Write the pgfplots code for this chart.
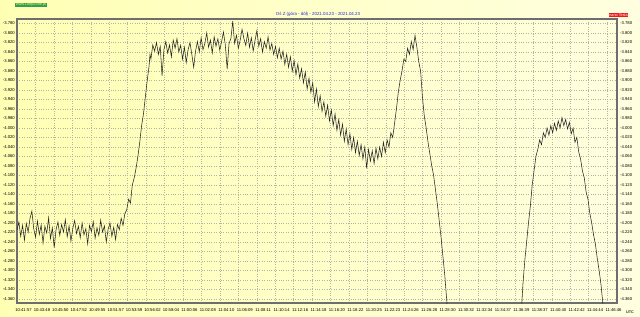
\documentclass[border=0pt]{standalone}
\usepackage{pgfplots}
\pgfplotsset{compat=1.18}
\usepackage{fontspec}
\setmainfont{Liberation Sans}
\definecolor{bgA}{HTML}{FFFFB4}
\definecolor{bgB}{HTML}{FFFFE0}
\definecolor{framec}{HTML}{6E6E6E}
\definecolor{gridc}{HTML}{B4B4A4}
\definecolor{titleblue}{HTML}{2828D0}
\definecolor{lzgreen}{HTML}{2E9E58}
\definecolor{nanored}{HTML}{F01818}
\pgfplotstableread{
x y
0.0 -4.215
0.1 -4.198
0.2 -4.228
0.3 -4.205
0.4 -4.236
0.5 -4.201
0.6 -4.219
0.7 -4.190
0.8 -4.175
0.9 -4.212
1.0 -4.230
1.1 -4.196
1.2 -4.224
1.3 -4.204
1.4 -4.242
1.5 -4.207
1.6 -4.221
1.7 -4.189
1.8 -4.233
1.9 -4.210
2.0 -4.252
2.1 -4.214
2.2 -4.198
2.3 -4.226
2.4 -4.203
2.5 -4.219
2.6 -4.193
2.7 -4.229
2.8 -4.206
2.9 -4.238
3.0 -4.211
3.1 -4.195
3.2 -4.222
3.3 -4.207
3.4 -4.231
3.5 -4.200
3.6 -4.225
3.7 -4.212
3.8 -4.244
3.9 -4.205
4.0 -4.218
4.1 -4.197
4.2 -4.232
4.3 -4.210
4.4 -4.226
4.5 -4.194
4.6 -4.219
4.7 -4.206
4.8 -4.240
4.9 -4.213
5.0 -4.200
5.1 -4.228
5.2 -4.209
5.3 -4.235
5.4 -4.203
5.5 -4.214
5.6 -4.190
5.7 -4.205
5.8 -4.180
5.9 -4.172
6.0 -4.150
6.1 -4.158
6.2 -4.120
6.3 -4.105
6.4 -4.085
6.5 -4.060
6.6 -4.030
6.7 -3.995
6.8 -3.970
6.9 -3.935
7.0 -3.900
7.1 -3.870
7.15 -3.845
7.2 -3.855
7.3 -3.825
7.4 -3.838
7.5 -3.820
7.6 -3.845
7.7 -3.828
7.8 -3.890
7.9 -3.835
8.0 -3.818
8.1 -3.842
8.2 -3.825
8.3 -3.850
8.4 -3.815
8.5 -3.832
8.6 -3.812
8.7 -3.840
8.8 -3.826
8.9 -3.855
9.0 -3.830
9.1 -3.862
9.2 -3.835
9.3 -3.820
9.4 -3.845
9.5 -3.872
9.6 -3.838
9.7 -3.818
9.8 -3.840
9.9 -3.810
10.0 -3.835
10.1 -3.822
10.2 -3.800
10.3 -3.830
10.4 -3.815
10.5 -3.842
10.6 -3.808
10.7 -3.828
10.8 -3.812
10.9 -3.836
11.0 -3.818
11.1 -3.798
11.2 -3.825
11.3 -3.876
11.4 -3.822
11.5 -3.812
11.6 -3.775
11.7 -3.822
11.8 -3.805
11.9 -3.832
12.0 -3.815
12.1 -3.792
12.2 -3.812
12.3 -3.826
12.4 -3.800
12.5 -3.830
12.6 -3.810
12.7 -3.838
12.8 -3.815
12.9 -3.795
13.0 -3.828
13.1 -3.812
13.2 -3.840
13.3 -3.818
13.4 -3.832
13.5 -3.808
13.6 -3.836
13.7 -3.822
13.8 -3.845
13.9 -3.828
14.0 -3.852
14.1 -3.832
14.2 -3.855
14.3 -3.838
14.4 -3.866
14.5 -3.845
14.6 -3.872
14.7 -3.850
14.8 -3.880
14.9 -3.858
15.0 -3.888
15.1 -3.865
15.2 -3.895
15.3 -3.875
15.4 -3.905
15.5 -3.882
15.6 -3.918
15.7 -3.895
15.8 -3.925
15.9 -3.905
16.0 -3.945
16.1 -3.918
16.2 -3.955
16.3 -3.932
16.4 -3.965
16.5 -3.945
16.6 -3.975
16.7 -3.952
16.8 -3.985
16.9 -3.962
17.0 -3.995
17.1 -3.970
17.2 -4.005
17.3 -3.982
17.4 -4.015
17.5 -3.992
17.6 -4.028
17.7 -4.002
17.8 -4.035
17.9 -4.012
18.0 -4.045
18.1 -4.020
18.2 -4.052
18.3 -4.028
18.4 -4.058
18.5 -4.035
18.6 -4.065
18.7 -4.040
18.8 -4.085
18.9 -4.045
19.0 -4.070
19.1 -4.048
19.2 -4.075
19.3 -4.042
19.4 -4.065
19.5 -4.040
19.6 -4.060
19.7 -4.030
19.8 -4.052
19.9 -4.025
20.0 -4.040
20.1 -4.010
20.2 -4.020
20.3 -3.990
20.4 -3.960
20.5 -3.925
20.6 -3.900
20.7 -3.880
20.8 -3.855
20.9 -3.860
21.0 -3.832
21.1 -3.845
21.2 -3.818
21.3 -3.835
21.4 -3.805
21.5 -3.830
21.6 -3.860
21.7 -3.880
21.8 -3.935
21.9 -3.975
22.0 -4.000
22.1 -4.030
22.2 -4.055
22.3 -4.080
22.4 -4.100
22.5 -4.130
22.6 -4.160
22.7 -4.195
22.8 -4.230
22.9 -4.270
23.0 -4.310
23.1 -4.360
23.2 -4.410
23.3 -4.450
27.0 -4.450
27.1 -4.400
27.2 -4.330
27.3 -4.280
27.4 -4.240
27.5 -4.200
27.6 -4.165
27.7 -4.120
27.8 -4.090
27.9 -4.060
28.0 -4.045
28.1 -4.025
28.2 -4.035
28.3 -4.010
28.4 -4.020
28.5 -4.000
28.6 -4.015
28.7 -3.995
28.8 -4.010
28.9 -3.990
29.0 -4.005
29.1 -3.985
29.2 -4.000
29.3 -3.978
29.4 -3.995
29.5 -3.982
29.6 -4.002
29.7 -3.988
29.8 -4.012
29.9 -4.000
30.0 -4.030
30.1 -4.020
30.2 -4.050
30.3 -4.065
30.4 -4.090
30.5 -4.105
30.6 -4.135
30.7 -4.150
30.8 -4.180
30.9 -4.200
31.0 -4.225
31.1 -4.245
31.2 -4.275
31.3 -4.300
31.4 -4.330
31.5 -4.370
31.6 -4.420
31.7 -4.450
32.3 -4.450
}\zdata
\begin{document}
\begin{tikzpicture}[x=1pt,y=1pt]
\shade[use as bounding box, left color=bgA, right color=bgB] (0,0) rectangle (640,316);
\pgfplotsset{
  base/.style={
    at={(17pt,13pt)}, anchor=south west, scale only axis,
    width=600pt, height=284pt,
    xmin=0, xmax=32.26, ymin=-4.3684, ymax=-3.7705,
    ytick={-4.36,-4.34,...,-3.77},
    major tick length=0pt,
    /pgf/number format/assume math mode=true,
    /pgf/number format/fixed,
    /pgf/number format/fixed zerofill,
    /pgf/number format/precision=3,
    /pgf/number format/1000 sep={},
    yticklabel style={font=\fontsize{4.2}{5}\selectfont, inner sep=0pt},
  }
}
\begin{axis}[base,
  xtick={0,0.9914,...,31.8},
  xticklabels={10:41:57,10:43:48,10:45:50,10:47:52,10:49:55,10:51:57,10:53:59,10:56:02,10:58:04,11:00:06,11:02:08,11:04:10,11:06:09,11:08:11,11:10:14,11:12:16,11:14:18,11:16:20,11:18:22,11:20:25,11:22:23,11:24:26,11:26:28,11:28:30,11:30:32,11:32:34,11:34:37,11:36:39,11:38:37,11:40:40,11:42:42,11:44:44,11:46:46},
  xticklabel style={font=\fontsize{4.2}{5}\selectfont, inner sep=0pt, anchor=north, xshift=6.5pt, yshift=-5pt},
  yticklabel style={anchor=east, xshift=-2pt},
  grid=major,
  major grid style={dotted, gridc, line width=0.4pt},
  axis line style={framec, line width=1.2pt},
]
\addplot[black!85, line width=0.55pt] table[x=x,y=y] {\zdata};
\end{axis}
\begin{axis}[base,
  hide x axis,
  axis y line*=right,
  axis line style={draw=none},
  yticklabel pos=right,
  yticklabel style={anchor=west, xshift=3pt},
]
\end{axis}
\node[fill=lzgreen, inner sep=0.5pt, text=yellow!70!white, font=\fontsize{3.8}{4}\selectfont] at (31,311) {www.LoopZone.pl};
\node[text=titleblue, font=\fontsize{4.4}{5}\selectfont] at (318,302) {Oś Z (góra - dół) - 2021.04.23 - 2021.04.23};
\node[fill=nanored, inner sep=0.5pt, text=white, font=\fontsize{3.8}{4}\selectfont] at (618.5,301) {nano Tesla};
\node[text=black!80, font=\bfseries\fontsize{3.8}{4}\selectfont] at (630,4) {UTC};
\end{tikzpicture}
\end{document}
